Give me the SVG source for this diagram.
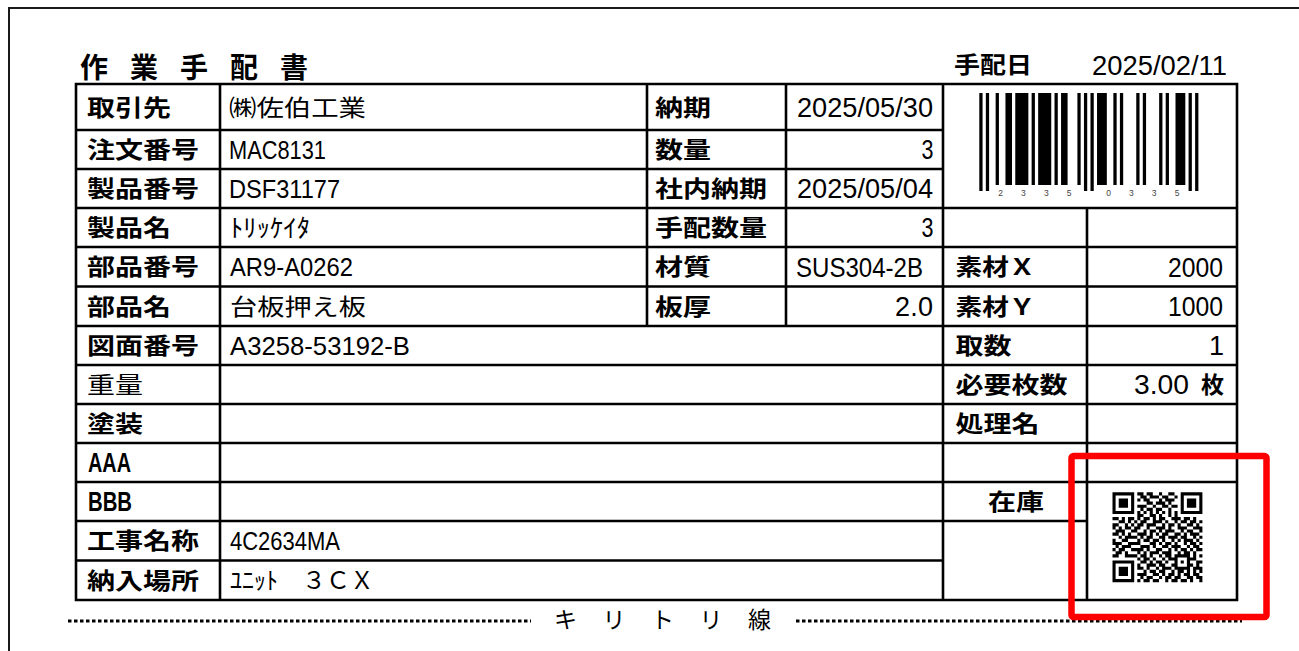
<svg xmlns="http://www.w3.org/2000/svg" width="1299" height="651" viewBox="0 0 1299 651">
<style>
.lb{font-family:"Noto Sans CJK JP","Noto Sans CJK SC",sans-serif;font-weight:700;font-size:23px;fill:#000}
.lr{font-family:"Noto Sans CJK JP","Noto Sans CJK SC",sans-serif;font-weight:400;font-size:23px;fill:#000}
.vj{font-family:"Noto Sans CJK JP","Noto Sans CJK SC",sans-serif;font-weight:400;font-size:23px;fill:#000}
.vn{font-family:"Liberation Sans","Noto Sans CJK JP",sans-serif;font-size:25px;fill:#000}
.vd{font-family:"Liberation Sans","Noto Sans CJK JP",sans-serif;font-size:27px;fill:#000}
.ab{font-family:"Liberation Sans",sans-serif;font-weight:700;font-size:28px;fill:#000}
.grid{fill:none;stroke:#000;stroke-width:2.6;stroke-linecap:square}
.dig{font-family:"Liberation Sans",sans-serif;font-size:8.5px;fill:#444;text-anchor:middle}
</style>
<rect x="0" y="0" width="1299" height="651" fill="#fff"/>
<path d="M9 651V8H1299" fill="none" stroke="#1a1a1a" stroke-width="2"/>

<g id="title">
<text class="lb" x="80" y="78" style="font-size:28px" textLength="228" lengthAdjust="spacing">作 業 手 配 書</text>
<text class="lb" x="954" y="73" textLength="78" lengthAdjust="spacingAndGlyphs">手配日</text>
<text class="vd" x="1092" y="75" textLength="135" lengthAdjust="spacingAndGlyphs">2025/02/11</text>
</g>

<g id="grid">
<path class="grid" d="M76 84H1237M76 130H943M76 169H943M76 208H1237M76 247H1237M76 286.5H1237M76 326H1237M76 365H1237M76 404H1237M76 443H1237M76 482H1237M76 521H1087M76 560.5H943M76 600H1237M76 84V600M220 84V600M647 84V326M786 84V326M943 84V600M1087 208V600M1237 84V600"/>
</g>

<g id="labels-left">
<text class="lb" x="87" y="115.5" textLength="84" lengthAdjust="spacingAndGlyphs">取引先</text>
<text class="lb" x="87" y="158" textLength="112" lengthAdjust="spacingAndGlyphs">注文番号</text>
<text class="lb" x="87" y="197" textLength="112" lengthAdjust="spacingAndGlyphs">製品番号</text>
<text class="lb" x="87" y="236" textLength="84" lengthAdjust="spacingAndGlyphs">製品名</text>
<text class="lb" x="87" y="275.25" textLength="112" lengthAdjust="spacingAndGlyphs">部品番号</text>
<text class="lb" x="87" y="314.75" textLength="84" lengthAdjust="spacingAndGlyphs">部品名</text>
<text class="lb" x="87" y="354" textLength="112" lengthAdjust="spacingAndGlyphs">図面番号</text>
<text class="lr" x="87" y="393" textLength="56" lengthAdjust="spacingAndGlyphs">重量</text>
<text class="lb" x="87" y="432" textLength="56" lengthAdjust="spacingAndGlyphs">塗装</text>
<text class="ab" x="88" y="472" textLength="43" lengthAdjust="spacingAndGlyphs">AAA</text>
<text class="ab" x="88" y="511" textLength="44" lengthAdjust="spacingAndGlyphs">BBB</text>
<text class="lb" x="87" y="549.25" textLength="112" lengthAdjust="spacingAndGlyphs">工事名称</text>
<text class="lb" x="87" y="588.75" textLength="112" lengthAdjust="spacingAndGlyphs">納入場所</text>
</g>

<g id="values-left">
<text class="vj" x="229" y="115.5" textLength="137" lengthAdjust="spacingAndGlyphs">㈱佐伯工業</text>
<text class="vn" x="229" y="158.5" textLength="97" lengthAdjust="spacingAndGlyphs">MAC8131</text>
<text class="vn" x="229" y="197.5" textLength="111" lengthAdjust="spacingAndGlyphs">DSF31177</text>
<text class="vj" x="230" y="236.5" style="font-size:25px" textLength="80" lengthAdjust="spacingAndGlyphs">ﾄﾘｯｹｲﾀ</text>
<text class="vn" x="230" y="275.7" textLength="123" lengthAdjust="spacingAndGlyphs">AR9-A0262</text>
<text class="vj" x="230" y="314.75" textLength="136" lengthAdjust="spacingAndGlyphs">台板押え板</text>
<text class="vn" x="230" y="354.5" textLength="180" lengthAdjust="spacingAndGlyphs">A3258-53192-B</text>
<text class="vn" x="230" y="549.7" textLength="110" lengthAdjust="spacingAndGlyphs">4C2634MA</text>
<text class="vj" x="230" y="589" style="font-size:24px">ﾕﾆｯﾄ　３ＣＸ</text>
</g>

<g id="labels-mid">
<text class="lb" x="655" y="115.5" textLength="56" lengthAdjust="spacingAndGlyphs">納期</text>
<text class="lb" x="655" y="158" textLength="56" lengthAdjust="spacingAndGlyphs">数量</text>
<text class="lb" x="655" y="197" textLength="112" lengthAdjust="spacingAndGlyphs">社内納期</text>
<text class="lb" x="655" y="236" textLength="112" lengthAdjust="spacingAndGlyphs">手配数量</text>
<text class="lb" x="655" y="275.25" textLength="56" lengthAdjust="spacingAndGlyphs">材質</text>
<text class="lb" x="655" y="314.75" textLength="56" lengthAdjust="spacingAndGlyphs">板厚</text>
</g>

<g id="values-mid">
<text class="vd" x="797" y="116.7" textLength="136" lengthAdjust="spacingAndGlyphs">2025/05/30</text>
<text class="vd" x="921.5" y="159.2" textLength="12" lengthAdjust="spacingAndGlyphs">3</text>
<text class="vd" x="797" y="198.2" textLength="136" lengthAdjust="spacingAndGlyphs">2025/05/04</text>
<text class="vd" x="921.5" y="237.2" textLength="12" lengthAdjust="spacingAndGlyphs">3</text>
<text class="vd" x="796" y="276.5" textLength="127" lengthAdjust="spacingAndGlyphs">SUS304-2B</text>
<text class="vd" x="895" y="316" textLength="38" lengthAdjust="spacing">2.0</text>
</g>

<g id="barcode">
<g transform="translate(979.3 0) scale(3.27 1)" fill="#000">
<rect x="0" y="93" width="1" height="98"/><rect x="2" y="93" width="1" height="98"/>
<rect x="5" y="93" width="1" height="92"/><rect x="8" y="93" width="2" height="92"/>
<rect x="11" y="93" width="4" height="92"/><rect x="16" y="93" width="1" height="92"/>
<rect x="18" y="93" width="4" height="92"/><rect x="23" y="93" width="1" height="92"/>
<rect x="25" y="93" width="2" height="92"/><rect x="30" y="93" width="1" height="92"/>
<rect x="32" y="93" width="1" height="98"/><rect x="34" y="93" width="1" height="98"/>
<rect x="36" y="93" width="3" height="92"/><rect x="41" y="93" width="1" height="92"/>
<rect x="43" y="93" width="1" height="92"/><rect x="48" y="93" width="1" height="92"/>
<rect x="50" y="93" width="1" height="92"/><rect x="55" y="93" width="1" height="92"/>
<rect x="57" y="93" width="1" height="92"/><rect x="60" y="93" width="3" height="92"/>
<rect x="64" y="93" width="1" height="98"/><rect x="66" y="93" width="1" height="98"/>
</g>
<text class="dig" x="1000.6" y="196">2</text>
<text class="dig" x="1023.4" y="196">3</text>
<text class="dig" x="1046.3" y="196">3</text>
<text class="dig" x="1069.2" y="196">5</text>
<text class="dig" x="1108.5" y="196">0</text>
<text class="dig" x="1131.4" y="196">3</text>
<text class="dig" x="1154.2" y="196">3</text>
<text class="dig" x="1177.1" y="196">5</text>
</g>

<g id="labels-right">
<text class="lb" x="955.5" y="275.25" textLength="80" lengthAdjust="spacingAndGlyphs">素材Ｘ</text>
<text class="lb" x="955.5" y="314.75" textLength="80" lengthAdjust="spacingAndGlyphs">素材Ｙ</text>
<text class="lb" x="955.5" y="354" textLength="56" lengthAdjust="spacingAndGlyphs">取数</text>
<text class="lb" x="955.5" y="393" textLength="112" lengthAdjust="spacingAndGlyphs">必要枚数</text>
<text class="lb" x="955.5" y="432" textLength="84" lengthAdjust="spacingAndGlyphs">処理名</text>
<text class="lb" x="988" y="510" textLength="56" lengthAdjust="spacingAndGlyphs">在庫</text>
</g>

<g id="values-right">
<text class="vd" x="1168" y="276.5" textLength="55" lengthAdjust="spacingAndGlyphs">2000</text>
<text class="vd" x="1168" y="316" textLength="55" lengthAdjust="spacingAndGlyphs">1000</text>
<text class="vd" x="1224" y="355.2" text-anchor="end">1</text>
<text class="vd" x="1134" y="394.2"><tspan textLength="55" lengthAdjust="spacingAndGlyphs">3.00</tspan> <tspan x="1201" y="393" class="lb">枚</tspan></text>
</g>

<g id="qrcode" transform="translate(1112.5 492.3) scale(3.1)" fill="none" stroke="#000" stroke-width="1">
<path d="M0 .5h7M8 .5h2M11 .5h2M15 .5h1M18 .5h2M22 .5h7M0 1.5h1M6 1.5h1M9 1.5h2M12 1.5h3M16 1.5h2M20 1.5h1M22 1.5h1M28 1.5h1M0 2.5h1M2 2.5h3M6 2.5h1M8 2.5h1M10 2.5h2M15 2.5h1M17 2.5h3M22 2.5h1M24 2.5h3M28 2.5h1M0 3.5h1M2 3.5h3M6 3.5h1M11 3.5h2M14 3.5h3M18 3.5h1M22 3.5h1M24 3.5h3M28 3.5h1M0 4.5h1M2 4.5h3M6 4.5h1M8 4.5h3M13 4.5h1M16 4.5h2M19 4.5h2M22 4.5h1M24 4.5h3M28 4.5h1M0 5.5h1M6 5.5h1M9 5.5h1M11 5.5h2M14 5.5h2M18 5.5h1M22 5.5h1M28 5.5h1M0 6.5h7M8 6.5h1M10 6.5h1M12 6.5h1M14 6.5h1M16 6.5h1M18 6.5h1M20 6.5h1M22 6.5h7M8 7.5h2M12 7.5h2M15 7.5h1M18 7.5h1M20 7.5h1M0 8.5h2M3 8.5h1M5 8.5h2M8 8.5h1M10 8.5h2M13 8.5h1M15 8.5h2M19 8.5h3M23 8.5h2M26 8.5h1M2 9.5h2M5 9.5h1M7 9.5h1M9 9.5h2M13 9.5h3M17 9.5h1M20 9.5h1M22 9.5h2M25 9.5h2M28 9.5h1M0 10.5h2M4 10.5h1M6 10.5h1M8 10.5h2M11 10.5h3M16 10.5h1M18 10.5h2M21 10.5h1M24 10.5h2M27 10.5h1M0 11.5h1M2 11.5h1M4 11.5h2M7 11.5h2M11 11.5h1M14 11.5h3M18 11.5h1M21 11.5h3M26 11.5h3M1 12.5h3M6 12.5h2M10 12.5h1M12 12.5h2M15 12.5h1M17 12.5h3M22 12.5h1M24 12.5h2M28 12.5h1M0 13.5h2M3 13.5h1M5 13.5h1M8 13.5h3M12 13.5h1M14 13.5h1M16 13.5h2M20 13.5h2M23 13.5h1M25 13.5h3M2 14.5h1M4 14.5h4M9 14.5h1M11 14.5h2M15 14.5h2M18 14.5h3M22 14.5h2M26 14.5h1M28 14.5h1M0 15.5h1M3 15.5h2M8 15.5h1M10 15.5h2M13 15.5h2M16 15.5h1M19 15.5h1M21 15.5h1M23 15.5h3M27 15.5h1M0 16.5h3M5 16.5h4M12 16.5h2M15 16.5h1M17 16.5h2M20 16.5h1M23 16.5h1M25 16.5h2M28 16.5h1M1 17.5h1M3 17.5h3M9 17.5h3M13 17.5h1M16 17.5h2M19 17.5h3M24 17.5h1M26 17.5h2M0 18.5h1M2 18.5h2M6 18.5h4M11 18.5h1M14 18.5h2M18 18.5h1M20 18.5h1M22 18.5h2M25 18.5h1M27 18.5h2M1 19.5h2M4 19.5h1M8 19.5h1M10 19.5h1M12 19.5h3M16 19.5h3M21 19.5h1M23 19.5h2M26 19.5h1M0 20.5h2M4 20.5h4M9 20.5h2M12 20.5h1M15 20.5h1M17 20.5h2M20 20.5h5M26 20.5h1M28 20.5h1M8 21.5h1M10 21.5h2M13 21.5h1M16 21.5h1M18 21.5h3M24 21.5h3M0 22.5h7M9 22.5h2M12 22.5h1M14 22.5h2M17 22.5h1M20 22.5h1M22 22.5h1M24 22.5h1M27 22.5h2M0 23.5h1M6 23.5h1M8 23.5h1M11 23.5h3M15 23.5h2M19 23.5h2M24 23.5h2M27 23.5h1M0 24.5h1M2 24.5h3M6 24.5h1M8 24.5h2M11 24.5h1M14 24.5h1M16 24.5h3M20 24.5h5M26 24.5h3M0 25.5h1M2 25.5h3M6 25.5h1M10 25.5h1M12 25.5h2M15 25.5h2M19 25.5h1M21 25.5h2M24 25.5h1M26 25.5h1M28 25.5h1M0 26.5h1M2 26.5h3M6 26.5h1M8 26.5h3M13 26.5h2M16 26.5h1M18 26.5h2M21 26.5h1M23 26.5h2M26 26.5h2M0 27.5h1M6 27.5h1M9 27.5h1M11 27.5h2M15 27.5h1M17 27.5h2M20 27.5h2M24 27.5h2M27 27.5h2M0 28.5h7M8 28.5h1M10 28.5h2M13 28.5h2M17 28.5h1M19 28.5h2M22 28.5h2M25 28.5h1M28 28.5h1"/>
</g>

<g id="cutline">
<path d="M68 621H531M796 621H1242" fill="none" stroke="#000" stroke-width="3" stroke-dasharray="3.5 2.5"/>
<text class="vj" x="554" y="628" textLength="217" lengthAdjust="spacing">キ リ ト リ 線</text>
</g>

<rect id="highlight" x="1071.5" y="456" width="195" height="161" rx="2" fill="none" stroke="#ff0000" stroke-width="6.5"/>
</svg>
